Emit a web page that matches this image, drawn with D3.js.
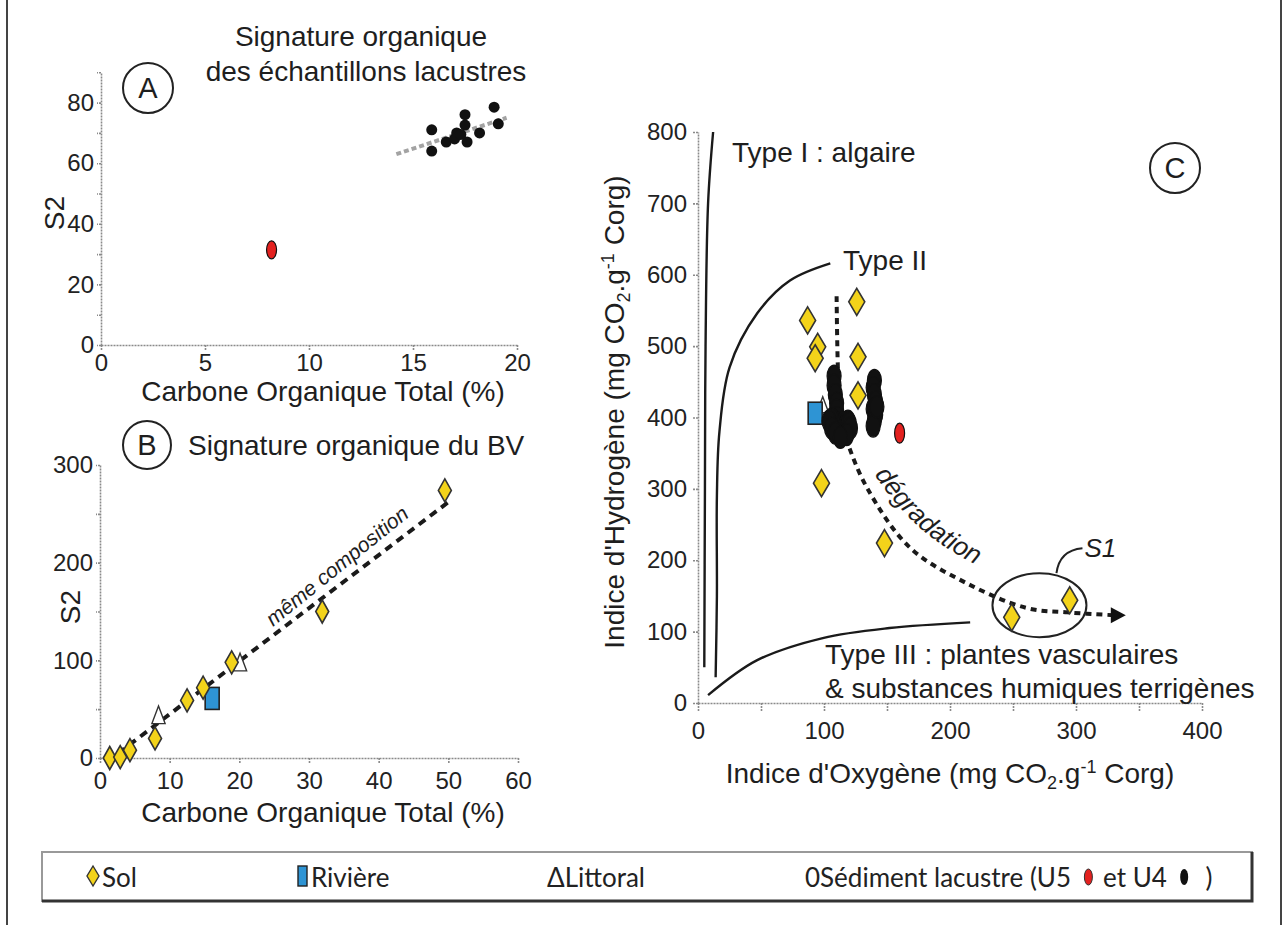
<!DOCTYPE html>
<html>
<head>
<meta charset="utf-8">
<script src="https://cdn.jsdelivr.net/npm/d3@7"></script>
<style>
  body { margin: 0; background: #fff; }
  svg { display: block; font-family: "Liberation Sans", Arial, sans-serif; }
  .axis path, .axis line { stroke: #8a8a8a; stroke-width: 1.6; stroke-dasharray: 2,1; }
  .axis text { font-size: 24px; fill: #222; font-family: "Liberation Sans", Arial, sans-serif; }
  .lbl { font-size: 28px; fill: #1e1e1e; }
  .leg { font-family: Lato, "Open Sans", sans-serif; font-size: 26px; fill: #222; white-space: pre; }
</style>
</head>
<body>
<svg id="fig" width="1286" height="925"></svg>
<script>
// --- A : lake samples, S2 vs COT
const aU4Cot = [15.9, 15.9, 16.6, 17.1, 17.5, 17.5, 17.6, 18.2, 18.9, 19.1, 17.0, 17.3];
const aU4S2  = [71, 64, 67, 70, 76, 72.6, 67, 70, 78.5, 73, 68, 69.5];
const aU5Cot = [8.2];
const aU5S2  = [31.4];
const aTrendCot = [14.2, 19.5];
const aTrendS2  = [63, 75];

// --- B : catchment samples
const bSolCot = [1.4, 2.9, 4.3, 7.9, 12.5, 14.8, 18.9, 31.9, 49.5];
const bSolS2  = [0, 1, 8, 20, 59, 72, 98, 150, 274];
const bRivCot = [16.1];
const bRivS2  = [61];
const bLitCot = [8.4, 20.1];
const bLitS2  = [42, 96];
const bTrendCot = [1, 50];
const bTrendS2  = [-4, 262];

// --- C : pseudo van Krevelen (IO vs IH)
const cSolIO = [87, 95, 93, 126, 127, 127, 98, 148, 249, 295];
const cSolIH = [536, 499, 483, 562, 485, 431, 308, 224, 120, 144];
const cRivIO = [93];
const cRivIH = [406];
const cLitIO = [99];
const cLitIH = [415];
const cU5IO = [160];
const cU5IH = [378];
const cU4IO = [108, 108, 109, 110, 110, 111, 113, 108, 117, 111, 116, 113, 106, 119, 104, 120, 106, 121, 109, 118, 113,
               140, 139, 140, 141, 139, 141, 140, 139, 142];
const cU4IH = [458, 445, 432, 420, 410, 400, 392, 395, 388, 384, 380, 376, 398, 395, 395, 392, 385, 385, 378, 376, 372,
               452, 442, 432, 422, 412, 404, 396, 388, 415];
const typeI   = [[5, 50], [5.5, 300], [6, 500], [8, 700], [12, 800]];
const typeII  = [[14, 36], [15, 150], [15, 290], [17, 380], [25, 470], [47, 546], [73, 592], [105, 616]];
const typeIII = [[8, 11], [47, 60], [99, 91], [152, 105], [216, 113]];
const degrad  = [[110, 570], [111, 470], [113, 400], [118, 368], [134, 302], [168, 218], [213, 168], [261, 133], [293, 127], [330, 123]];

const svg = d3.select('#fig');
svg.append('rect').attr('width', 1286).attr('height', 925).attr('fill', '#fff');

// frame
svg.append('line').attr('x1', 7).attr('x2', 7).attr('y1', 0).attr('y2', 925).attr('stroke', '#444').attr('stroke-width', 2);
svg.append('line').attr('x1', 1281).attr('x2', 1281).attr('y1', 0).attr('y2', 925).attr('stroke', '#444').attr('stroke-width', 2);

const zip = (a, b) => a.map((v, i) => [v, b[i]]);

function diamond(g, pts, x, y, w, h) {
  g.selectAll(null).data(pts).enter().append('path')
    .attr('d', d => {
      const cx = x(d[0]), cy = y(d[1]);
      return `M${cx},${cy - h / 2}L${cx + w / 2},${cy}L${cx},${cy + h / 2}L${cx - w / 2},${cy}Z`;
    })
    .attr('fill', '#f3d31a').attr('stroke', '#333').attr('stroke-width', 1.6);
}
function square(g, pts, x, y, w, h) {
  g.selectAll(null).data(pts).enter().append('rect')
    .attr('x', d => x(d[0]) - w / 2).attr('y', d => y(d[1]) - h / 2)
    .attr('width', w).attr('height', h)
    .attr('fill', '#2e94d4').attr('stroke', '#222').attr('stroke-width', 1.6);
}
function triangle(g, pts, x, y, s) {
  g.selectAll(null).data(pts).enter().append('path')
    .attr('d', d => {
      const cx = x(d[0]), cy = y(d[1]);
      return `M${cx},${cy - s}L${cx + s * 0.6},${cy + s * 0.6}L${cx - s * 0.6},${cy + s * 0.6}Z`;
    })
    .attr('fill', '#fff').attr('stroke', '#333').attr('stroke-width', 1.4);
}
function blob(g, pts, x, y, rx, ry, col) {
  g.selectAll(null).data(pts).enter().append('ellipse')
    .attr('cx', d => x(d[0])).attr('cy', d => y(d[1]))
    .attr('rx', rx).attr('ry', ry)
    .attr('fill', col).attr('stroke', '#111').attr('stroke-width', 1.2);
}
function letterCircle(cx, cy, r, txt) {
  svg.append('circle').attr('cx', cx).attr('cy', cy).attr('r', r)
    .attr('fill', 'none').attr('stroke', '#222').attr('stroke-width', 2);
  svg.append('text').attr('x', cx).attr('y', cy + 10).attr('text-anchor', 'middle')
    .attr('font-size', 29).attr('fill', '#1e1e1e').text(txt);
}

// ================= Panel A
const xA = d3.scaleLinear().domain([0, 20]).range([101, 517]);
const yA = d3.scaleLinear().domain([0, 90]).range([345, 72.3]);
const gA = svg.append('g');

gA.append('g').attr('class', 'axis').attr('transform', 'translate(0,345)')
  .call(d3.axisBottom(xA).tickValues([0, 5, 10, 15, 20]).tickSize(5).tickPadding(4).tickSizeOuter(0));
gA.append('g').attr('class', 'axis').attr('transform', 'translate(101,0)')
  .call(d3.axisLeft(yA).tickValues(d3.range(0, 91, 10)).tickFormat(d => d % 20 === 0 ? d : '')
    .tickSize(4).tickPadding(3).tickSizeOuter(0));

gA.append('path')
  .attr('d', d3.line().x(d => xA(d[0])).y(d => yA(d[1]))(zip(aTrendCot, aTrendS2)))
  .attr('stroke', '#a3a3a3').attr('stroke-width', 4).attr('stroke-dasharray', '5,3').attr('fill', 'none');
gA.selectAll(null).data(zip(aU4Cot, aU4S2)).enter().append('circle')
  .attr('cx', d => xA(d[0])).attr('cy', d => yA(d[1])).attr('r', 5.5).attr('fill', '#111');
blob(gA, zip(aU5Cot, aU5S2), xA, yA, 5, 9, '#e3211f');

letterCircle(148, 88, 25, 'A');
svg.append('text').attr('class', 'lbl').attr('x', 361).attr('y', 46).attr('text-anchor', 'middle').text('Signature organique');
svg.append('text').attr('class', 'lbl').attr('x', 366).attr('y', 81).attr('text-anchor', 'middle').text('des échantillons lacustres');
svg.append('text').attr('class', 'lbl').attr('transform', 'translate(64,213) rotate(-90)').attr('text-anchor', 'middle').text('S2');
svg.append('text').attr('class', 'lbl').attr('x', 323).attr('y', 401).attr('font-size', 27).attr('text-anchor', 'middle').text('Carbone Organique Total (%)');

// ================= Panel B
const xB = d3.scaleLinear().domain([0, 60]).range([100, 518]);
const yB = d3.scaleLinear().domain([0, 300]).range([758, 465]);
const gB = svg.append('g');

gB.append('g').attr('class', 'axis').attr('transform', 'translate(0,758)')
  .call(d3.axisBottom(xB).tickValues(d3.range(0, 61, 10)).tickSize(5).tickPadding(9).tickSizeOuter(0));
gB.append('g').attr('class', 'axis').attr('transform', 'translate(100,0)')
  .call(d3.axisLeft(yB).tickValues(d3.range(0, 301, 50)).tickFormat(d => d % 100 === 0 ? d : '')
    .tickSize(4).tickPadding(3).tickSizeOuter(0));

gB.append('path')
  .attr('d', d3.line().x(d => xB(d[0])).y(d => yB(d[1]))(zip(bTrendCot, bTrendS2)))
  .attr('stroke', '#1a1a1a').attr('stroke-width', 4).attr('stroke-dasharray', '8,6').attr('fill', 'none');
triangle(gB, zip(bLitCot, bLitS2), xB, yB, 11);
square(gB, zip(bRivCot, bRivS2), xB, yB, 14, 22);
diamond(gB, zip(bSolCot, bSolS2), xB, yB, 13, 23);

gB.append('text').attr('transform', 'translate(273,627) rotate(-39)')
  .attr('font-size', 21).attr('font-style', 'italic').attr('fill', '#1e1e1e').text('même composition');

letterCircle(147, 445, 24, 'B');
svg.append('text').attr('class', 'lbl').attr('x', 188).attr('y', 455).text('Signature organique du BV');
svg.append('text').attr('class', 'lbl').attr('transform', 'translate(80,607) rotate(-90)').attr('text-anchor', 'middle').text('S2');
svg.append('text').attr('class', 'lbl').attr('x', 323).attr('y', 822).attr('text-anchor', 'middle').text('Carbone Organique Total (%)');

// ================= Panel C
const xC = d3.scaleLinear().domain([0, 400]).range([698, 1202]);
const yC = d3.scaleLinear().domain([0, 800]).range([703, 132]);
const gC = svg.append('g');

gC.append('g').attr('class', 'axis').attr('transform', 'translate(0,703)')
  .call(d3.axisBottom(xC).tickValues(d3.range(0, 401, 50)).tickFormat(d => d % 100 === 0 ? d : '')
    .tickSize(8).tickPadding(11).tickSizeOuter(0));
gC.append('g').attr('class', 'axis').attr('transform', 'translate(698,0)')
  .call(d3.axisLeft(yC).tickValues(d3.range(0, 801, 100)).tickSize(6).tickPadding(5).tickSizeOuter(0));

const lineC = d3.line().x(d => xC(d[0])).y(d => yC(d[1])).curve(d3.curveCatmullRom);
[typeI, typeII, typeIII].forEach(t => {
  gC.append('path').attr('d', lineC(t)).attr('fill', 'none').attr('stroke', '#1a1a1a').attr('stroke-width', 2.4);
});

gC.append('path').attr('d', lineC(degrad)).attr('fill', 'none')
  .attr('stroke', '#1a1a1a').attr('stroke-width', 4).attr('stroke-dasharray', '6,5');
{
  const last = degrad[degrad.length - 1];
  const ax = xC(last[0]) + 10, ay = yC(last[1]);
  gC.append('path').attr('d', `M${ax - 13},${ay - 8}L${ax + 2},${ay}L${ax - 13},${ay + 8}Z`).attr('fill', '#111');
}

// S1 group
{
  const cx = xC(271), cy = yC(137);
  gC.append('ellipse').attr('cx', cx).attr('cy', cy).attr('rx', 47).attr('ry', 32)
    .attr('fill', 'none').attr('stroke', '#222').attr('stroke-width', 2);
  gC.append('path').attr('d', `M${cx + 17},${cy - 32} Q${cx + 20},${cy - 55} ${cx + 43},${cy - 57}`)
    .attr('fill', 'none').attr('stroke', '#222').attr('stroke-width', 2);
  gC.append('text').attr('x', cx + 45).attr('y', cy - 48).attr('font-size', 26).attr('font-style', 'italic')
    .attr('fill', '#1e1e1e').text('S1');
}

triangle(gC, zip(cLitIO, cLitIH), xC, yC, 10);
square(gC, zip(cRivIO, cRivIH), xC, yC, 14, 22);
blob(gC, zip(cU4IO, cU4IH), xC, yC, 7, 11, '#111');
blob(gC, zip(cU5IO, cU5IH), xC, yC, 5, 10, '#e3211f');
diamond(gC, zip(cSolIO, cSolIH), xC, yC, 16, 27);

// label along the degradation curve
const degLabel = [[140, 320], [156, 282], [181, 238], [216, 198], [250, 174]];
gC.append('path').attr('id', 'degPath').attr('d', lineC(degLabel)).attr('fill', 'none');
gC.append('text').attr('font-size', 26).attr('font-style', 'italic').attr('fill', '#1e1e1e')
  .append('textPath').attr('href', '#degPath').text('dégradation');

gC.append('text').attr('class', 'lbl').attr('x', 732).attr('y', 162).text('Type I : algaire');
gC.append('text').attr('class', 'lbl').attr('x', 843).attr('y', 270).text('Type II');
gC.append('text').attr('class', 'lbl').attr('x', 825).attr('y', 664).text('Type III : plantes vasculaires');
gC.append('text').attr('class', 'lbl').attr('x', 825).attr('y', 698).text('& substances humiques terrigènes');

letterCircle(1175, 168, 25, 'C');

function unitLabel(t, pre) {
  t.append('tspan').text(pre + ' (mg CO');
  t.append('tspan').attr('font-size', 18).attr('dy', 6).text('2');
  t.append('tspan').attr('dy', -6).text('.g');
  t.append('tspan').attr('font-size', 18).attr('dy', -10).text('-1');
  t.append('tspan').attr('dy', 10).text(' Corg)');
}
unitLabel(svg.append('text').attr('class', 'lbl').attr('text-anchor', 'middle')
  .attr('transform', 'translate(624,412) rotate(-90)'), "Indice d'Hydrogène");
unitLabel(svg.append('text').attr('class', 'lbl').attr('text-anchor', 'middle')
  .attr('x', 950).attr('y', 783), "Indice d'Oxygène");

// ================= Legend
const leg = svg.append('g');
leg.append('rect').attr('x', 42).attr('y', 852).attr('width', 1210).attr('height', 49)
  .attr('fill', '#fff').attr('stroke', '#999').attr('stroke-width', 2);
leg.append('path').attr('d', 'M42,901L1252,901L1252,852').attr('fill', 'none').attr('stroke', '#333').attr('stroke-width', 3);

leg.append('path').attr('d', 'M93,866L99,876L93,886L87,876Z').attr('fill', '#f3d31a').attr('stroke', '#333').attr('stroke-width', 1.4);
leg.append('text').attr('class', 'leg').attr('x', 102).attr('y', 887).text('Sol');
leg.append('rect').attr('x', 298).attr('y', 866).attr('width', 9).attr('height', 20)
  .attr('fill', '#2e94d4').attr('stroke', '#222').attr('stroke-width', 1.4);
leg.append('text').attr('class', 'leg').attr('x', 311).attr('y', 887).text('Rivière');
leg.append('text').attr('class', 'leg').attr('x', 547).attr('y', 887).text('ΔLittoral');

{
  let x = 805;
  const t1 = leg.append('text').attr('class', 'leg').attr('x', x).attr('y', 887).text('0Sédiment lacustre (U5\u00a0\u00a0');
  x += t1.node().getComputedTextLength() + 4;
  leg.append('ellipse').attr('cx', x).attr('cy', 877).attr('rx', 4).attr('ry', 8).attr('fill', '#e3211f').attr('stroke', '#333');
  x += 8;
  const t2 = leg.append('text').attr('class', 'leg').attr('x', x).attr('y', 887).text('\u00a0et U4\u00a0\u00a0');
  x += t2.node().getComputedTextLength() + 4;
  leg.append('ellipse').attr('cx', x).attr('cy', 877).attr('rx', 4).attr('ry', 8).attr('fill', '#111');
  x += 8;
  leg.append('text').attr('class', 'leg').attr('x', x).attr('y', 887).text('\u00a0\u00a0)');
}
</script>
</body>
</html>
